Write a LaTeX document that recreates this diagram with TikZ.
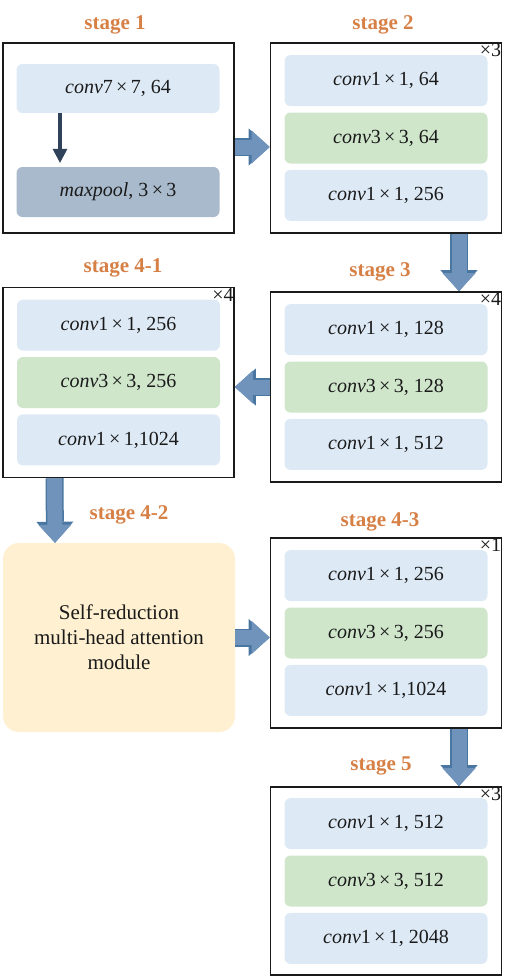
\documentclass[tikz,border=0pt]{standalone}
\usepackage{fontspec}
\setmainfont{Liberation Serif}
\usetikzlibrary{arrows.meta,positioning}
\definecolor{StageInk}{HTML}{1A1A1A}
\definecolor{StageTag}{HTML}{D68046}
\definecolor{ConvBlue}{HTML}{DDEAF6}
\definecolor{ConvGreen}{HTML}{CFE6CB}
\definecolor{PoolGray}{HTML}{A9BACC}
\definecolor{AttnCream}{HTML}{FEF0D0}
\definecolor{FlowBlue}{HTML}{6F93BA}
\definecolor{FlowEdge}{HTML}{4A76A2}
\definecolor{PoolArrow}{HTML}{2F4259}
\tikzset{
  stagebox/.style={draw=StageInk, line width=1.6pt, minimum width=231pt, minimum height=190pt},
  layer/.style={rounded corners=6pt, minimum width=203pt, minimum height=51pt, inner sep=0pt, text=StageInk, font=\fontsize{20}{24}\selectfont},
  blueconv/.style={layer, fill=ConvBlue},
  greenconv/.style={layer, fill=ConvGreen},
  tag/.style={text=StageTag, font=\fontsize{21}{24}\selectfont\bfseries},
  reps/.style={anchor=north east, inner sep=1pt, text=StageInk, font=\fontsize{20}{22}\selectfont},
  bigflow/.style={line width=15pt, draw=FlowBlue, -{Triangle[width=33pt,length=18pt,line width=0pt]},
    preaction={draw=FlowEdge, line width=18pt, -{Triangle[width=37pt,length=21pt,line width=0pt]}}},
  poolflow/.style={line width=4pt, draw=PoolArrow, shorten >=4pt, -{Triangle[width=15pt,length=14pt,line width=0pt]}},
}
\begin{document}
\begin{tikzpicture}[x=1pt, y=-1pt]
  \useasboundingbox (0,0) rectangle (509,980);
  % stage boxes
  \node[stagebox] (st1) at (118.5,138) {};
  \node[stagebox] (st2) at (386,138) {};
  \node[stagebox] (st3) at (386,387) {};
  \node[stagebox] (st41) at (118.5,382.5) {};
  \node[stagebox] (st43) at (386,633) {};
  \node[stagebox, minimum height=188pt] (st5) at (386,881) {};
  \node[fill=AttnCream, rounded corners=16pt, minimum width=232pt, minimum height=189pt, align=center,
        text=StageInk, font=\fontsize{21}{25}\selectfont] (sra) at (119,637.5) {Self-reduction\\multi-head attention\\module};
  % titles
  \node[tag] (t1) at (115,25) {stage 1};
  \node[tag] (t2) at (383,25) {stage 2};
  \node[tag] (t3) at (380,272) {stage 3};
  \node[tag] (t41) at (123,268) {stage 4-1};
  \node[tag] (t42) at (129,515) {stage 4-2};
  \node[tag] (t43) at (380,522) {stage 4-3};
  \node[tag] (t5) at (381,766) {stage 5};
  \node[reps] (r2) at (st2.north east) {×3};
  \node[reps] (r3) at (st3.north east) {×4};
  \node[reps] (r41) at (st41.north east) {×4};
  \node[reps] (r43) at (st43.north east) {×1};
  \node[reps] (r5) at (st5.north east) {×3};
  % stage 1
  \node[blueconv, minimum height=49pt] (c71) at (118,88.5) {\textit{conv}7\,×\,7, 64};
  \node[layer, fill=PoolGray, minimum height=50pt] (mp) at (118,192) {\textit{maxpool}, 3\,×\,3};
  \draw[poolflow] ([xshift=-58pt]c71.south) -- ([xshift=-58pt]mp.north);
  % stage 2
  \node[greenconv] (b2) at (st2) {\textit{conv}3\,×\,3, 64};
  \node[blueconv, above=6pt of b2] (a2) {\textit{conv}1\,×\,1, 64};
  \node[blueconv, below=6pt of b2] (c2) {\textit{conv}1\,×\,1, 256};
  % stage 3
  \node[greenconv] (b3) at (st3) {\textit{conv}3\,×\,3, 128};
  \node[blueconv, above=6pt of b3] (a3) {\textit{conv}1\,×\,1, 128};
  \node[blueconv, below=6pt of b3] (c3) {\textit{conv}1\,×\,1, 512};
  % stage 4-1
  \node[greenconv] (b41) at (st41) {\textit{conv}3\,×\,3, 256};
  \node[blueconv, above=6pt of b41] (a41) {\textit{conv}1\,×\,1, 256};
  \node[blueconv, below=6pt of b41] (c41) {\textit{conv}1\,×\,1,1024};
  % stage 4-3
  \node[greenconv] (b43) at (st43) {\textit{conv}3\,×\,3, 256};
  \node[blueconv, above=6pt of b43] (a43) {\textit{conv}1\,×\,1, 256};
  \node[blueconv, below=6pt of b43] (c43) {\textit{conv}1\,×\,1,1024};
  % stage 5
  \node[greenconv] (b5) at (st5) {\textit{conv}3\,×\,3, 512};
  \node[blueconv, above=6pt of b5] (a5) {\textit{conv}1\,×\,1, 512};
  \node[blueconv, below=6pt of b5] (c5) {\textit{conv}1\,×\,1, 2048};
  % flow between stages
  \draw[bigflow] ([yshift=-9pt]st1.east) -- ([yshift=-9pt]st2.west);
  \draw[bigflow] ([xshift=73pt]st2.south) -- ([xshift=73pt]st3.north);
  \draw[bigflow] (st3.west) -- (st3.west -| st41.east);
  \draw[bigflow] ([xshift=-64pt]st41.south) -- ([xshift=-64pt]sra.north);
  \draw[bigflow] (sra.east) -- (sra.east -| st43.west);
  \draw[bigflow] ([xshift=73pt]st43.south) -- ([xshift=73pt]st5.north);
\end{tikzpicture}
\end{document}
